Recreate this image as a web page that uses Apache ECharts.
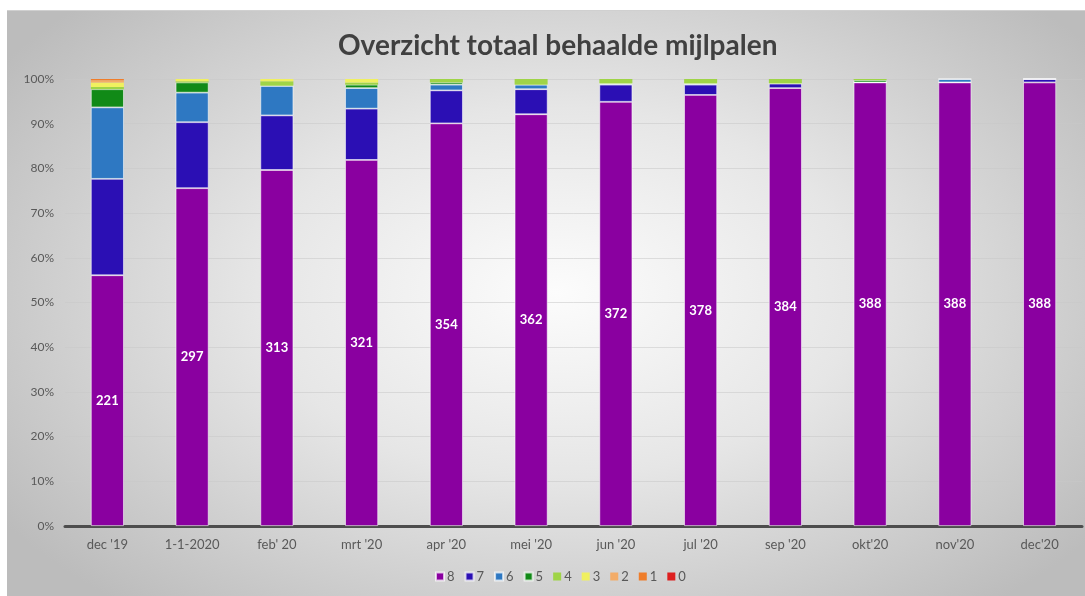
<!DOCTYPE html>
<html>
<head>
<meta charset="utf-8">
<script src="https://cdn.jsdelivr.net/npm/echarts@6/dist/echarts.min.js"></script>
<style>
  html, body { margin: 0; padding: 0; background: #fff; }
  #frame {
    position: absolute; left: 7px; top: 10px; width: 1078px; height: 586px;
    background: radial-gradient(ellipse 62% 70% at 51% 48%, #fcfcfc 0%, #e6e6e6 45%, #bcbcbc 100%);
    border-top: 1px solid #d0d0d0;
  }
  #chart { position: absolute; left: 0; top: 0; width: 1085px; height: 596px; }
</style>
</head>
<body>
<div id="frame"></div>
<div id="chart"></div>
<script>
// ---- data ----
const categories = ["dec '19", '1-1-2020', "feb' 20", "mrt '20", "apr '20", "mei '20",
  "jun '20", "jul '20", "sep '20", "okt'20", "nov'20", "dec'20"];
const yTicks = [0, 10, 20, 30, 40, 50, 60, 70, 80, 90, 100];

const m8 = [221, 297, 313, 321, 354, 362, 372, 378, 384, 388, 388, 388];
const m7 = [85, 58, 48, 45, 29, 22, 15, 9, 4, 0, 0, 3];
const m6 = [63, 26, 26, 18, 5, 4, 1, 1, 0, 0, 3, 0];
const m5 = [16, 9, 0, 3, 2, 0, 0, 0, 0, 2, 0, 0];
const m4 = [2, 1, 4, 2, 3, 5, 4, 4, 4, 1, 0, 0];
const m3 = [4, 2, 2, 3, 0, 0, 0, 0, 0, 0, 0, 0];
const m2 = [2, 0, 0, 0, 0, 0, 0, 0, 0, 0, 0, 0];
const m1 = [1, 0, 0, 0, 0, 0, 0, 0, 0, 0, 0, 0];
const m0 = [0, 0, 0, 0, 0, 0, 0, 0, 0, 0, 0, 0];

const seriesNames = ['8', '7', '6', '5', '4', '3', '2', '1', '0'];
const seriesData = [m8, m7, m6, m5, m4, m3, m2, m1, m0];
const colors = ['#8a00a0', '#2b0fb4', '#2e78c2', '#118a17', '#9fd447', '#f0f060', '#f3ac68', '#ef7d2a', '#dd1f1f'];

// ---- build ----
const totals = categories.map((_, i) => seriesData.reduce((s, arr) => s + arr[i], 0));
const FONT = 'Lato';

const chart = echarts.init(document.getElementById('chart'));

const series = seriesNames.map((name, k) => ({
  name: name,
  type: 'bar',
  stack: 'total',
  barWidth: 33,
  data: seriesData[k].map((v, i) => (v / totals[i]) * 100),
  // thin white seams between the big segments, none on the tiny top ones
  itemStyle: { color: colors[k], borderColor: 'rgba(255,255,255,0.7)', borderWidth: k < 4 ? 0.8 : 0 },
  label: k === 0 ? {
    show: true,
    position: 'inside',
    color: '#fff',
    fontWeight: 'bold',
    fontSize: 13,
    fontFamily: FONT,
    formatter: (p) => String(m8[p.dataIndex]),
  } : { show: false },
  emphasis: { disabled: true },
}));

chart.setOption({
  backgroundColor: 'transparent',
  animation: false,
  title: {
    text: 'Overzicht totaal behaalde mijlpalen',
    left: 333,
    top: 27,
    textStyle: { fontFamily: FONT, fontWeight: 'bold', fontSize: 28, color: '#404040' },
  },
  legend: {
    bottom: 8,
    left: 430,
    itemWidth: 8,
    itemHeight: 8,
    itemGap: 10,
    icon: 'rect',
    textStyle: { fontFamily: FONT, fontSize: 13, color: '#595959', padding: [0, 0, 0, -2] },
    data: seriesNames,
  },
  grid: { left: 65, right: 3, top: 79, bottom: 70, containLabel: false },
  xAxis: {
    type: 'category',
    data: categories,
    axisLine: { lineStyle: { color: '#4d4d4d', width: 3 } },
    axisTick: { show: false },
    axisLabel: { color: '#595959', fontFamily: FONT, fontSize: 13, margin: 12 },
  },
  yAxis: {
    type: 'value',
    min: yTicks[0],
    max: yTicks[yTicks.length - 1],
    interval: yTicks[1] - yTicks[0],
    axisLine: { show: false },
    axisTick: { show: false },
    axisLabel: { color: '#595959', fontFamily: FONT, fontSize: 12, margin: 11, formatter: '{value}%' },
    splitLine: { lineStyle: { color: 'rgba(200,200,200,0.55)', width: 1 } },
  },
  series: series,
});
</script>
</body>
</html>
